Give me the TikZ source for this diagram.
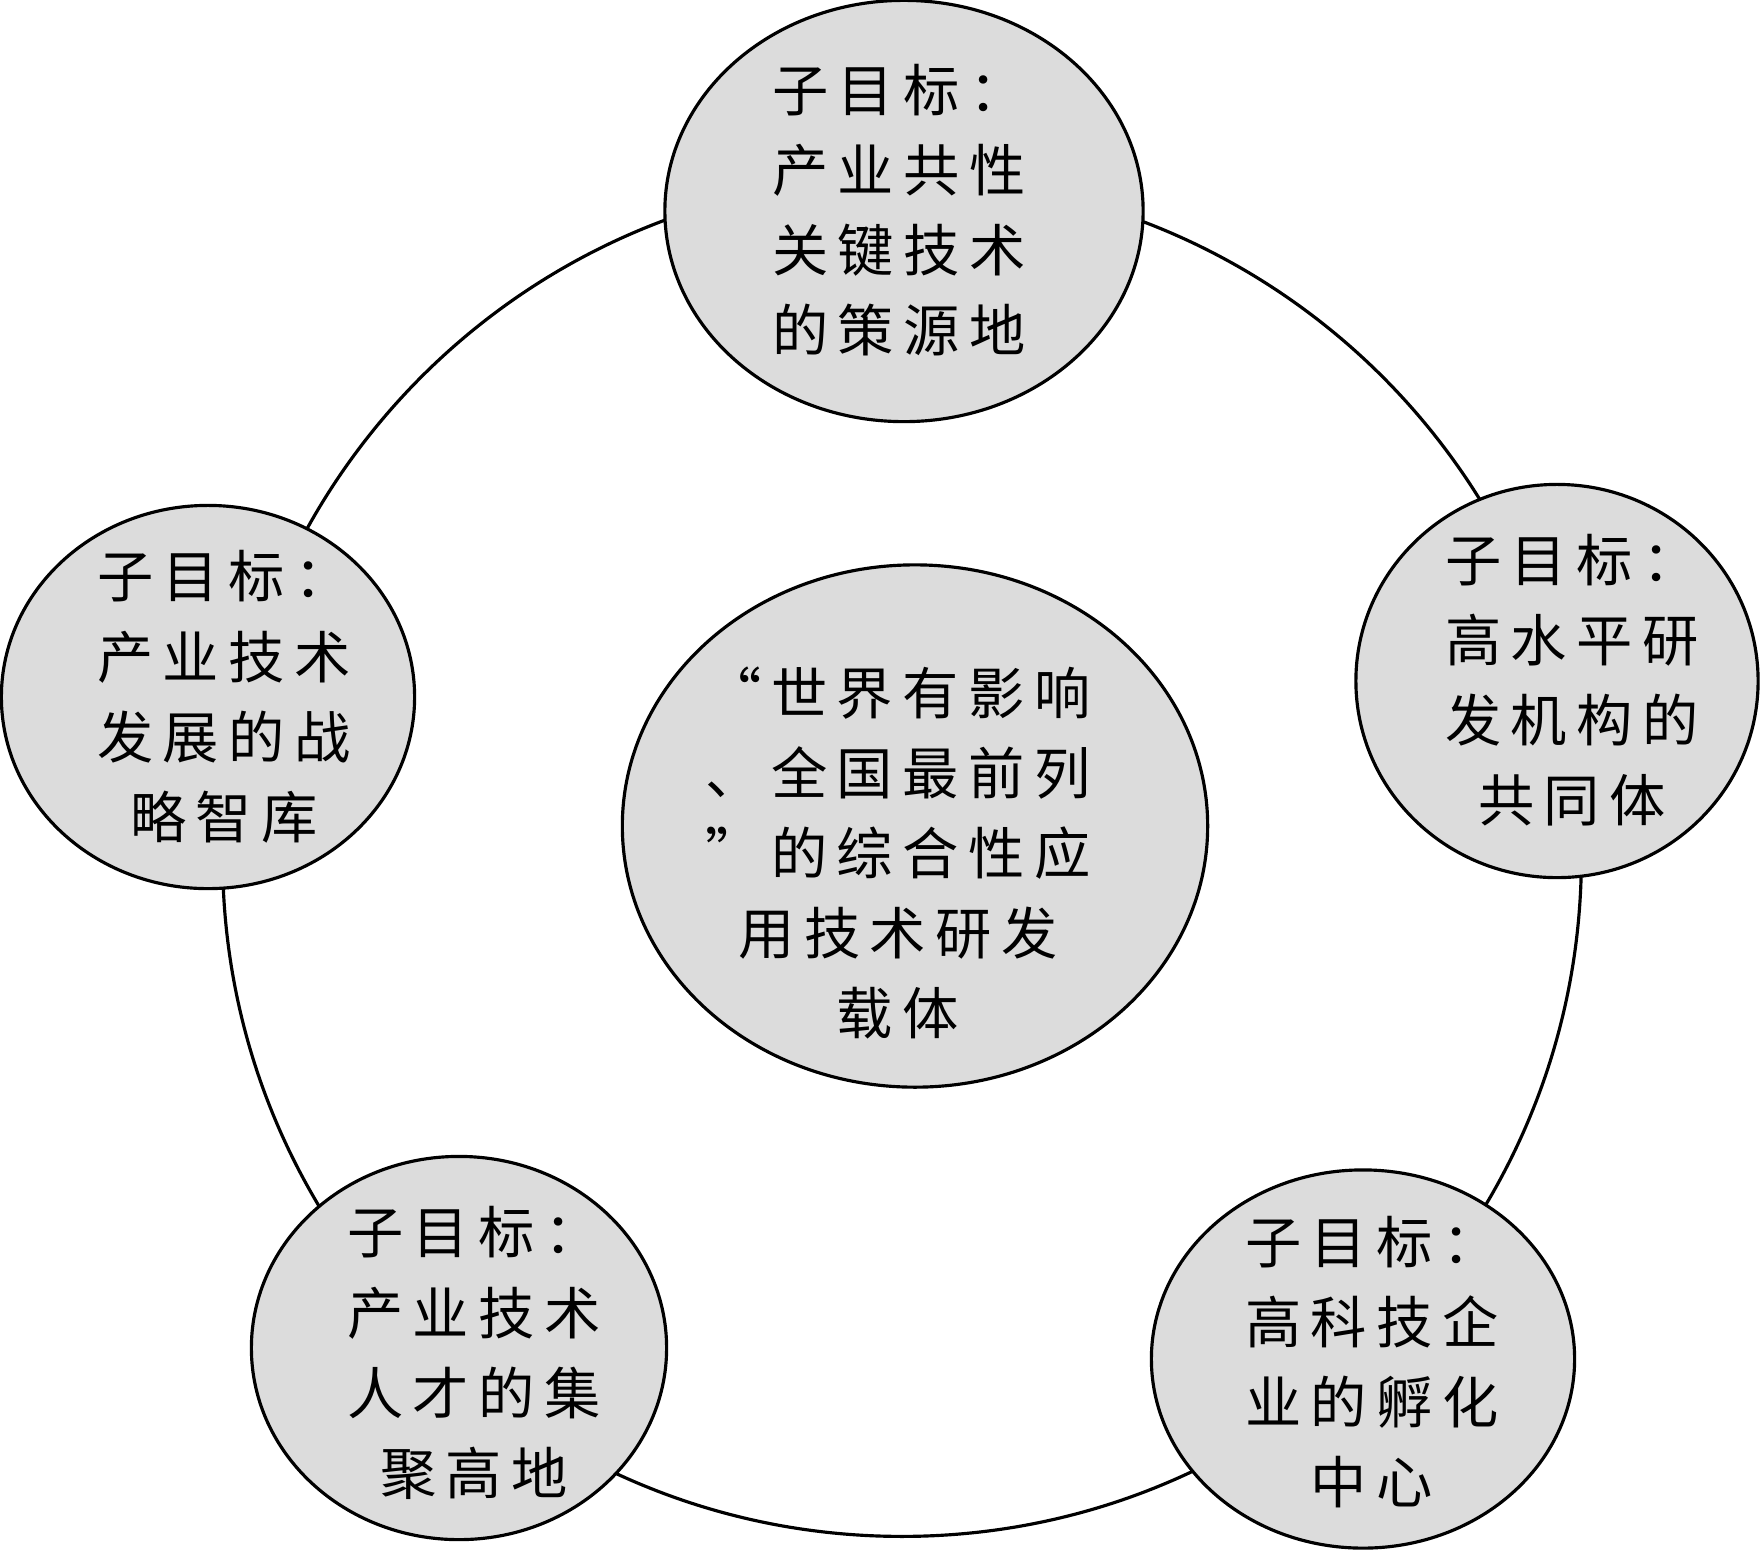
\documentclass[tikz,border=0pt]{standalone}
\usepackage{fontspec}
\newfontfamily\cjk[LetterSpace=17]{Noto Sans CJK SC}
\usetikzlibrary{shapes.geometric}
\definecolor{goalgray}{RGB}{220,220,220}
\tikzset{
  goal/.style={ellipse, draw, line width=0.9pt, fill=goalgray, inner sep=0pt},
  goaltext/.style={align=center, inner sep=0pt, font=\cjk\fontsize{16pt}{22.8pt}\selectfont},
}

\begin{document}
\begin{tikzpicture}[x=0.01cm, y=-0.01cm]
   \useasboundingbox (0,0) rectangle (1760,1553);
   \node[circle, draw, line width=0.9pt, inner sep=0pt, minimum size=13.58cm] (ring) at (902,857) {};
   % sub goals round the ring
   \node[goal, minimum width=4.78cm, minimum height=4.21cm] (top) at (904,211) {};
   \node[goal, minimum width=4.02cm, minimum height=3.93cm] (right) at (1557,681) {};
   \node[goal, minimum width=4.23cm, minimum height=3.78cm] (rbot) at (1363,1359) {};
   \node[goal, minimum width=4.15cm, minimum height=3.83cm] (lbot) at (459,1348) {};
   \node[goal, minimum width=4.13cm, minimum height=3.83cm] (left) at (208,697) {};
   % main goal
   \node[goal, minimum width=5.85cm, minimum height=5.22cm] (main) at (915,826) {};
   \node[goaltext] (top-t) at (899,210) {子目标：\\产业共性\\关键技术\\的策源地};
   \node[goaltext] (right-t) at (1572,680) {子目标：\\高水平研\\发机构的\\共同体};
   \node[goaltext] (rbot-t) at (1372,1362) {子目标：\\高科技企\\业的孵化\\中心};
   \node[goaltext] (lbot-t) at (474,1353) {子目标：\\产业技术\\人才的集\\聚高地};
   \node[goaltext] (left-t) at (224,697) {子目标：\\产业技术\\发展的战\\略智库};
   \node[goaltext] (main-t) at (898,853) {“世界有影响\\、全国最前列\\”的综合性应\\用技术研发\\载体};
\end{tikzpicture}
\end{document}
